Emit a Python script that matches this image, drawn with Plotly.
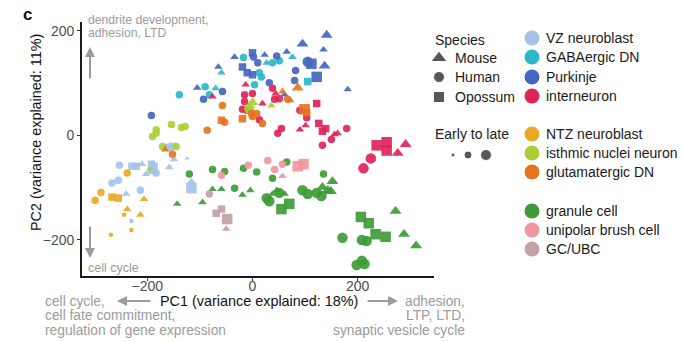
import plotly.graph_objects as go

W, H = 684, 342
FONT = "Liberation Sans, Arial, sans-serif"


def fx(px):
    return px / W


def fy(py):
    return 1 - py / H


# Each entry: (PC1, PC2, species, stage); species M=Mouse, H=Human, O=Opossum; stage 1 (early) .. 3 (late)
VZ_NEUROBLAST = [(-253, -57, "H", 2), (-229, -59, "O", 2), (-221, -59, "O", 2), (-210, -55, "M", 2),
                 (-192, -55, "O", 2), (-187, -59, "O", 2), (-192, -67, "H", 2), (-183, -72, "H", 2),
                 (-202, -74, "M", 2), (-158, -61, "M", 2), (-160, -23, "O", 2), (-152, -21, "O", 2),
                 (-149, -46, "M", 2), (-124, -44, "M", 1), (-267, -91, "H", 2), (-255, -86, "H", 2),
                 (-240, -112, "M", 2), (-213, -105, "H", 2), (-116, -88, "M", 2), (-116, -101, "O", 3),
                 (-230, -164, "H", 1)]
GABAERGIC_DN = [(-17, 149, "H", 2), (-59, 120, "M", 2), (-90, 93, "H", 2), (-70, 90, "M", 2),
                (-82, 78, "H", 2), (-139, 78, "H", 2), (51, 143, "H", 2), (38, 139, "H", 2),
                (27, 139, "M", 2), (76, 150, "M", 2), (13, 120, "H", 2), (17, 112, "H", 2),
                (105, 103, "O", 2), (4, 97, "H", 2)]
PURKINJE = [(95, 175, "M", 3), (141, 192, "M", 3), (135, 164, "M", 2), (-34, 150, "M", 2),
            (0, 158, "O", 2), (2, 150, "H", 2), (23, 154, "M", 2), (46, 152, "H", 2),
            (65, 160, "M", 2), (10, 139, "H", 2), (-19, 131, "O", 2), (105, 141, "H", 3),
            (112, 137, "O", 3), (137, 133, "M", 3), (122, 112, "O", 3), (82, 124, "H", 2),
            (-10, 120, "O", 2), (0, 116, "O", 2), (80, 105, "H", 2), (32, 101, "H", 2),
            (-65, 131, "M", 2), (-105, 91, "M", 2), (-57, 84, "H", 2), (-93, 69, "H", 2),
            (-192, 38, "H", 2), (181, 88, "M", 2), (61, 78, "M", 2)]
INTERNEURON = [(-13, 97, "M", 2), (-76, 74, "M", 2), (-15, 78, "H", 2), (0, 80, "H", 2),
               (38, 90, "H", 2), (44, 80, "M", 2), (42, 69, "H", 2), (51, 70, "H", 2),
               (19, 61, "M", 2), (-19, 50, "H", 2), (-11, 48, "H", 2), (13, 30, "H", 2),
               (90, 48, "H", 2), (122, 61, "O", 2), (103, 34, "H", 2), (55, 13, "H", 2),
               (48, 4, "H", 2), (90, 11, "M", 2), (101, 19, "M", 2), (126, 23, "O", 2),
               (139, 13, "O", 2), (133, 8, "O", 2), (156, 2, "M", 2), (162, 4, "M", 2),
               (150, -8, "H", 2), (133, -19, "H", 2), (179, 13, "H", 2), (236, -19, "O", 3),
               (255, -13, "O", 3), (255, -29, "O", 3), (291, -17, "M", 3), (276, -34, "M", 3),
               (225, -44, "H", 3), (211, -63, "H", 3), (-15, 65, "H", 2)]
NTZ_NEUROBLAST = [(-288, -109, "H", 2), (-299, -124, "H", 2), (-267, -118, "O", 2), (-255, -120, "O", 2),
                  (-206, -122, "M", 2), (-238, -141, "M", 2), (-244, -152, "H", 1), (-213, -152, "M", 2),
                  (-230, -181, "H", 1), (-269, -190, "H", 1), (-238, -72, "H", 2)]
ISTHMIC_NUCLEI = [(-154, 21, "H", 2), (-135, 15, "H", 2), (-128, 17, "H", 2), (-183, 11, "H", 2),
                  (-183, 4, "H", 2), (-190, -2, "H", 2), (-171, -21, "H", 2), (-145, -21, "H", 2),
                  (-196, -65, "H", 1), (-6, 51, "H", 3), (0, 63, "M", 3), (36, 57, "M", 2)]
GLUTAMATERGIC_DN = [(-166, -27, "M", 2), (-152, -36, "H", 2), (-86, 10, "H", 2), (-59, 29, "O", 2),
                    (-53, 25, "H", 2), (-57, 57, "H", 2), (-19, 32, "O", 2), (-2, 42, "H", 2),
                    (8, 42, "H", 2), (0, 36, "H", 2), (19, 23, "H", 2), (57, 84, "M", 2),
                    (67, 69, "H", 2), (72, 67, "M", 2), (86, 91, "M", 3), (99, 50, "O", 3),
                    (103, 44, "O", 2)]
GRANULE_CELL = [(-120, -74, "H", 2), (-143, -131, "M", 2), (-95, -128, "M", 2), (-76, -65, "H", 2),
                (-53, -69, "H", 2), (-76, -103, "M", 2), (-59, -103, "M", 2), (-34, -101, "H", 2),
                (-19, -114, "M", 2), (-4, -105, "M", 2), (-17, -63, "H", 2), (8, -70, "H", 2),
                (65, -51, "H", 2), (38, -82, "H", 2), (27, -120, "H", 3), (32, -126, "H", 3),
                (38, -112, "M", 2), (46, -105, "M", 2), (51, -110, "H", 3), (61, -112, "M", 2),
                (55, -141, "O", 3), (70, -131, "O", 3), (95, -105, "H", 3), (105, -112, "H", 3),
                (122, -110, "H", 3), (131, -116, "H", 3), (143, -105, "M", 3), (135, -74, "H", 2),
                (152, -88, "M", 3), (133, -99, "M", 3), (149, -107, "M", 3), (272, -145, "M", 3),
                (206, -156, "O", 3), (221, -168, "O", 3), (234, -189, "O", 3), (253, -194, "O", 3),
                (288, -189, "M", 3), (311, -211, "M", 3), (171, -196, "H", 3), (208, -200, "H", 3),
                (217, -202, "H", 3), (198, -248, "H", 3), (208, -240, "H", 3), (213, -246, "H", 3)]
UNIPOLAR_BRUSH = [(86, -59, "O", 3), (97, -55, "O", 3), (29, -48, "H", 2), (-8, -57, "H", 2),
                  (-59, -76, "H", 2), (57, -78, "M", 2), (42, -65, "H", 2), (57, -55, "H", 2)]
GC_UBC = [(-82, -112, "H", 2), (-69, -149, "O", 2), (-59, -141, "O", 2), (-48, -160, "O", 3),
          (-50, -179, "M", 2)]

CELL_TYPES = [
    ("VZ neuroblast", "#A4C2E8", VZ_NEUROBLAST),
    ("GABAergic DN", "#2DB6C8", GABAERGIC_DN),
    ("Purkinje", "#4565C0", PURKINJE),
    ("interneuron", "#E0245A", INTERNEURON),
    ("NTZ neuroblast", "#E9A825", NTZ_NEUROBLAST),
    ("isthmic nuclei neuron", "#A9CF38", ISTHMIC_NUCLEI),
    ("glutamatergic DN", "#E8731E", GLUTAMATERGIC_DN),
    ("granule cell", "#3F9A37", GRANULE_CELL),
    ("unipolar brush cell", "#F0969E", UNIPOLAR_BRUSH),
    ("GC/UBC", "#C4A2A4", GC_UBC),
]
SPECIES = [("Mouse", "M", "triangle-up"), ("Human", "H", "circle"), ("Opossum", "O", "square")]
SYMBOL = {code: sym for _, code, sym in SPECIES}
STAGE_SIZE = {1: 4.5, 2: 7.5, 3: 10.5}

fig = go.Figure()

for name, color, pts in CELL_TYPES:
    fig.add_trace(go.Scatter(
        x=[p[0] for p in pts], y=[p[1] for p in pts], mode="markers", name=name,
        marker=dict(color=color, symbol=[SYMBOL[p[2]] for p in pts],
                    size=[STAGE_SIZE[p[3]] for p in pts], opacity=0.92, line=dict(width=0)),
        showlegend=False, xaxis="x", yaxis="y"))

# ---- legend drawn on a pixel-scaled overlay axis ----
leg_ann = []
fig.add_trace(go.Scatter(
    x=[439] * 3, y=[58, 77, 97], mode="markers",
    marker=dict(color="#111", symbol=[s for _, _, s in SPECIES], size=[14, 11, 11]),
    showlegend=False, xaxis="x2", yaxis="y2", hoverinfo="skip"))
for (label, _, _), yy in zip(SPECIES, [58, 77, 97]):
    leg_ann.append(dict(x=fx(453), y=fy(yy), text=label))
leg_ann.append(dict(x=fx(433), y=fy(40), text="Species"))
leg_ann.append(dict(x=fx(433), y=fy(134), text="Early to late"))
fig.add_trace(go.Scatter(
    x=[453, 468, 486], y=[155, 155, 155], mode="markers",
    marker=dict(color="#111", size=[4, 8, 11]),
    showlegend=False, xaxis="x2", yaxis="y2", hoverinfo="skip"))

leg_rows = [38, 57, 77, 96, 134, 153, 172, 211, 230, 249]
fig.add_trace(go.Scatter(
    x=[532] * len(CELL_TYPES), y=leg_rows, mode="markers",
    marker=dict(color=[c for _, c, _ in CELL_TYPES], size=15),
    showlegend=False, xaxis="x2", yaxis="y2", hoverinfo="skip"))
for (name, _, _), yy in zip(CELL_TYPES, leg_rows):
    leg_ann.append(dict(x=fx(544), y=fy(yy), text=name))

annotations = []
for a in leg_ann:
    annotations.append(dict(xref="paper", yref="paper", xanchor="left", yanchor="middle",
                            showarrow=False, font=dict(family=FONT, size=14, color="#1a1a1a"), **a))

GREY = "#9b9b9b"


def text(px, py, s, anchor="left", size=13.8, color=GREY, **kw):
    annotations.append(dict(xref="paper", yref="paper", x=fx(px), y=fy(py), text=s,
                            xanchor=anchor, yanchor="middle", showarrow=False,
                            font=dict(family=FONT, size=size, color=color), **kw))


def arrow(x0, y0, x1, y1):
    annotations.append(dict(xref="paper", yref="paper", x=fx(x1), y=fy(y1), ax=x0 - x1, ay=y0 - y1,
                            text="", showarrow=True, arrowhead=2, arrowsize=1, arrowwidth=2,
                            arrowcolor=GREY))


# panel letter and axis titles
text(27, 14, "<b>c</b>", anchor="center", size=17, color="#111")
text(36, 133, "PC2 (variance explained: 11%)", anchor="center", size=14.4, color="#111", textangle=-90)
text(259, 301, "PC1 (variance explained: 18%)", anchor="center", size=14.4, color="#111")

# direction labels inside the panel
text(86, 20, "dendrite development,", size=12.2)
text(86, 33, "adhesion, LTD", size=12.2)
arrow(90, 80, 90, 47)
text(86, 268, "cell cycle", size=12.5)
arrow(90, 225, 90, 258)

# direction labels along PC1
arrow(152, 301, 117, 301)
text(43, 301, "cell cycle,")
text(43, 315.5, "cell fate commitment,")
text(43, 330, "regulation of gene expression")
arrow(366, 301, 398, 301)
text(467, 301, "adhesion,", anchor="right")
text(467, 315.5, "LTP, LTD,", anchor="right")
text(467, 330, "synaptic vesicle cycle", anchor="right")

axis_common = dict(showgrid=False, zeroline=False, showline=True, linecolor="#1a1a1a", linewidth=1.6,
                   ticks="outside", ticklen=3, tickcolor="#333", tickwidth=1,
                   tickfont=dict(family=FONT, size=14, color="#4d4d4d"))

fig.update_layout(
    width=W, height=H, margin=dict(l=0, r=0, t=0, b=0),
    paper_bgcolor="white", plot_bgcolor="rgba(0,0,0,0)",
    xaxis=dict(domain=[fx(82), fx(434)], range=[-324, 345], tickvals=[-200, 0, 200],
               anchor="y", ticklabelstandoff=-7, **axis_common),
    yaxis=dict(domain=[fy(276), fy(22)], range=[-269, 217], tickvals=[-200, 0, 200],
               anchor="x", **axis_common),
    xaxis2=dict(domain=[0, 1], range=[0, W], visible=False, anchor="y2", fixedrange=True),
    yaxis2=dict(domain=[0, 1], range=[H, 0], visible=False, anchor="x2", fixedrange=True),
    annotations=annotations,
    showlegend=False,
)

fig.write_html("out.html")
